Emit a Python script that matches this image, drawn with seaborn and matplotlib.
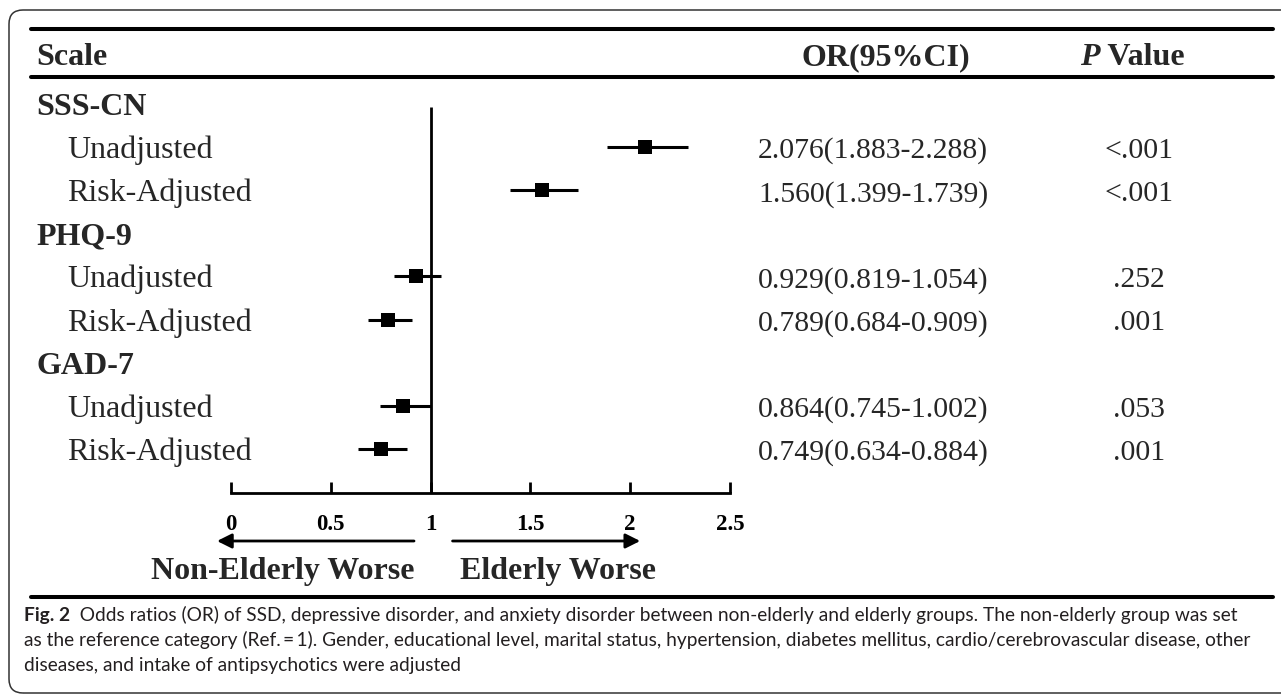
import numpy as np
import pandas as pd
import seaborn as sns
import matplotlib.pyplot as plt
import matplotlib.transforms as mtransforms
from matplotlib.patches import FancyBboxPatch
from matplotlib.lines import Line2D

# data
scales = ['SSS-CN', 'PHQ-9', 'GAD-7']
models = ['Unadjusted', 'Risk-Adjusted']
or_vals = [2.076, 1.560, 0.929, 0.789, 0.864, 0.749]
ci_low = [1.883, 1.399, 0.819, 0.684, 0.745, 0.634]
ci_high = [2.288, 1.739, 1.054, 0.909, 1.002, 0.884]
p_vals = ['<.001', '<.001', '.252', '.001', '.053', '.001']
x_ticks = [0, 0.5, 1, 1.5, 2, 2.5]
x_ticklabels = ['0', '0.5', '1', '1.5', '2', '2.5']

caption_bold = 'Fig. 2'
caption_lines = [
    '  Odds ratios (OR) of SSD, depressive disorder, and anxiety disorder between non-elderly and elderly groups. The non-elderly group was set',
    'as the reference category (Ref.\u2009=\u20091). Gender, educational level, marital status, hypertension, diabetes mellitus, cardio/cerebrovascular disease, other',
    'diseases, and intake of antipsychotics were adjusted',
]

# one row per scale header, then one per model
rows = []
k = 0
head_rows = []
for i, s in enumerate(scales):
    head_rows.append(k)
    k += 1
    for j, m in enumerate(models):
        idx = i * 2 + j
        rows.append({'scale': s, 'model': m, 'row': k, 'or': or_vals[idx],
                     'lo': ci_low[idx], 'hi': ci_high[idx], 'p': p_vals[idx]})
        k += 1
df = pd.DataFrame(rows)

sns.set_theme(style='white')
plt.rcParams['font.family'] = ['Liberation Serif', 'DejaVu Serif']

W, H = 1281, 695
fig = plt.figure(figsize=(W / 100, H / 100), dpi=100)
ax = fig.add_axes([0, 0, 1, 1])

# scale: OR 0 at 231 px, 199.6 px per unit; rows 43.1 px apart starting at 104 px
px_unit, x0 = 199.6, 231
row_px, row0 = 43.1, 104
ax.set_xlim(-x0 / px_unit, (W - x0) / px_unit)
ax.set_ylim((H - row0) / row_px, -row0 / row_px)

def prow(p):
    return (p - row0) / row_px

base = 11 / row_px  # baseline offset from row centre
axis_row = prow(493)

# forest marks
ax.hlines(df['row'], df['lo'], df['hi'], color='black', lw=2.2, zorder=2)
sns.scatterplot(data=df, x='or', y='row', marker='s', s=90, color='black',
                edgecolor='black', linewidth=0, ax=ax, zorder=3, legend=False)
ax.vlines(1, prow(107), axis_row, color='black', lw=2, zorder=1)

# x axis as positioned bottom spine
for sp in ['top', 'left', 'right']:
    ax.spines[sp].set_visible(False)
ax.spines['bottom'].set_position(('data', axis_row))
ax.spines['bottom'].set_bounds(0, 2.5)
ax.spines['bottom'].set_linewidth(2)
ax.spines['bottom'].set_color('black')
ax.set_xticks(x_ticks)
ax.set_xticklabels(x_ticklabels, fontweight='bold')
ax.tick_params(axis='x', direction='in', length=8, width=2, pad=15,
               labelsize=16.5, colors='black', bottom=True)
ax.set_yticks([])
ax.set_xlabel('')
ax.set_ylabel('')

trans = mtransforms.blended_transform_factory(ax.transAxes, ax.transData)

# column headers
hy = prow(65)
ax.text(36 / W, hy, 'Scale', transform=trans, fontsize=23, fontweight='bold', va='baseline')
ax.text(886 / W, hy, 'OR(95%CI)', transform=trans, fontsize=23, fontweight='bold',
        va='baseline', ha='center')
tp = ax.text(1080 / W, hy, 'P', transform=trans, fontsize=23, fontweight='bold',
             style='italic', va='baseline')
ax.annotate(' Value', xy=(1, 0), xycoords=tp, fontsize=23, fontweight='bold', va='bottom')

# row labels and table columns
for r, s in zip(head_rows, scales):
    ax.text(36 / W, r + base, s, transform=trans, fontsize=23, fontweight='bold', va='baseline')
for _, d in df.iterrows():
    y = d['row'] + base
    ax.text(67 / W, y, d['model'], transform=trans, fontsize=23, va='baseline')
    ax.text(758 / W, y, f"{d['or']:.3f}({d['lo']:.3f}-{d['hi']:.3f})", transform=trans,
            fontsize=21.4, va='baseline')
    ax.text(1139 / W, y, d['p'], transform=trans, fontsize=21.4, va='baseline', ha='center')

# direction arrows
ar = prow(541)
arrow = dict(arrowstyle='-|>', color='black', lw=2, mutation_scale=22, shrinkA=0, shrinkB=0)
ax.annotate('', xy=(-0.07, ar), xytext=(0.917, ar), arrowprops=arrow)
ax.annotate('', xy=(2.05, ar), xytext=(1.11, ar), arrowprops=arrow)
ax.text(0.917, prow(579), 'Non-Elderly Worse', fontsize=23, fontweight='bold', ha='right', va='baseline')
ax.text(1.147, prow(579), 'Elderly Worse', fontsize=23, fontweight='bold', ha='left', va='baseline')

# table rules
for yp in [29, 77, 597]:
    fig.add_artist(Line2D([31 / W, 1273 / W], [1 - yp / H] * 2, lw=2.9, color='black'))

# rounded frame
fig.add_artist(FancyBboxPatch((9, 2), 1300, 683, boxstyle='round,pad=0,rounding_size=14',
                              transform=mtransforms.IdentityTransform(), fill=False,
                              lw=1.1, ec='#333333'))

# caption
cap_font = ['Lato', 'DejaVu Sans']
cs = 13.8
t0 = fig.text(24 / W, 1 - 621 / H, caption_bold, family=cap_font, fontsize=cs,
              fontweight='bold', va='baseline', color='#231f20')
ax.annotate(caption_lines[0], xy=(1, 0), xycoords=t0, family=cap_font, fontsize=cs,
            va='bottom', color='#231f20')
fig.text(24 / W, 1 - 646 / H, caption_lines[1], family=cap_font, fontsize=cs,
         va='baseline', color='#231f20')
fig.text(24 / W, 1 - 671 / H, caption_lines[2], family=cap_font, fontsize=cs,
         va='baseline', color='#231f20')

fig.savefig('out.png', dpi=100)
